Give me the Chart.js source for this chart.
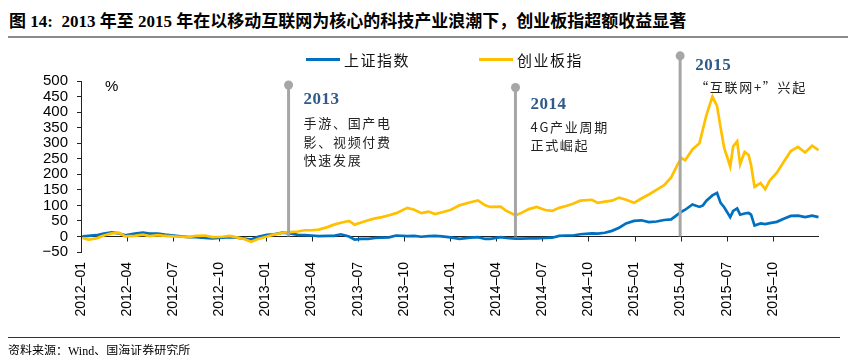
<!DOCTYPE html>
<html><head><meta charset="utf-8">
<script src="https://cdn.jsdelivr.net/npm/chart.js@4.4.0/dist/chart.umd.min.js"></script>
<style>
html,body{margin:0;padding:0;background:#fff;}
#wrap{position:relative;width:856px;height:355px;overflow:hidden;background:#fff;}
#title{position:absolute;left:9px;top:7px;font:bold 17px "Liberation Serif","Noto Sans CJK SC",serif;color:#000;white-space:nowrap;}
#tline{position:absolute;left:8px;top:36px;width:840px;height:2px;background:#8c8c8c;}
#bline{position:absolute;left:8px;top:337px;width:832px;height:1px;background:#333;}
#src{position:absolute;left:8px;top:341px;font:12px "Liberation Serif","Noto Sans CJK SC",serif;color:#000;white-space:nowrap;}
canvas{position:absolute;left:0;top:0;}
</style></head>
<body>
<div id="wrap">
<div id="title">图 14:&nbsp; 2013 年至 2015 年在以移动互联网为核心的科技产业浪潮下，创业板指超额收益显著</div>
<div id="tline"></div>
<canvas id="c" width="856" height="355"></canvas>
<div id="bline"></div>
<div id="src">资料来源：Wind、国海证券研究所</div>
</div>
<script>
// ---- data (cumulative change since start, %) ----
const dates = [
'2012-01-04','2012-01-16','2012-02-01','2012-02-15','2012-03-01','2012-03-15','2012-03-28','2012-04-16','2012-05-02','2012-05-15','2012-06-01','2012-06-15',
'2012-07-02','2012-07-16','2012-08-01','2012-08-15','2012-09-03','2012-09-17','2012-10-08','2012-10-22','2012-11-05','2012-11-19','2012-12-03','2012-12-17',
'2013-01-04','2013-01-18','2013-02-04','2013-02-18','2013-03-04','2013-03-18','2013-04-01','2013-04-15','2013-05-02','2013-05-15','2013-05-29','2013-06-14',
'2013-06-25','2013-07-08','2013-07-22','2013-08-05','2013-08-19','2013-09-02','2013-09-16','2013-10-08','2013-10-22','2013-11-05','2013-11-19','2013-12-02',
'2013-12-16','2014-01-02','2014-01-20','2014-02-10','2014-02-24','2014-03-10','2014-03-20','2014-04-10','2014-04-21','2014-05-09','2014-05-20','2014-06-05',
'2014-06-20','2014-07-07','2014-07-21','2014-08-04','2014-08-18','2014-09-01','2014-09-15','2014-10-08','2014-10-20','2014-11-03','2014-11-17','2014-12-01',
'2014-12-15','2014-12-31','2015-01-15','2015-01-30','2015-02-13','2015-02-27','2015-03-13','2015-03-27','2015-04-03','2015-04-10','2015-04-24','2015-05-08',
'2015-05-15','2015-05-22','2015-06-03','2015-06-12','2015-06-19','2015-06-26','2015-07-08','2015-07-14','2015-07-22','2015-07-28','2015-08-06','2015-08-14',
'2015-08-19','2015-08-26','2015-09-07','2015-09-16','2015-09-25','2015-10-09','2015-10-23','2015-11-06','2015-11-20','2015-12-04','2015-12-18','2015-12-31'
];
const shanghai = [
0,2,4,9,13,10,4,9,12,9,9,6,
3,0,-2,-2,-5,-6,-4,-2,-4,-7,-10,-1,
5,7,12,10,5,4,3,1,2,2,7,0,
-10,-8,-8,-5,-4,-3,3,1,2,-1,1,2,
0,-3,-8,-4,-2,-8,-8,-2,-5,-7,-7,-6,
-6,-5,-4,2,3,3,7,10,9,12,18,28,
42,50,52,46,48,53,55,72,80,86,103,95,
100,115,132,140,108,94,62,82,90,70,74,76,
70,35,42,40,43,47,57,66,67,62,67,62
];
const chinext = [
-5,-10,-6,3,10,12,0,2,6,1,4,2,
0,-1,-2,2,3,-2,-1,2,-3,-8,-17,-8,
0,6,12,14,16,20,20,22,30,38,44,50,
38,45,52,58,62,68,75,92,86,75,80,72,
78,85,100,110,116,100,95,96,82,68,75,88,
95,85,82,92,98,105,115,118,108,112,115,125,
118,108,122,135,150,165,190,235,252,245,280,300,
345,390,450,420,350,285,225,290,306,232,272,262,
230,160,172,152,180,205,240,275,288,270,292,278
];
const seriesNames = ['上证指数','创业板指'];
const tickLabels = ['2012-01','2012-04','2012-07','2012-10','2013-01','2013-04','2013-07','2013-10',
'2014-01','2014-04','2014-07','2014-10','2015-01','2015-04','2015-07','2015-10'];
const yMin = -50, yMax = 500, yStep = 50, xEnd = '2016-01-01';
const eventDates = ['2013-02-15','2014-05-09','2015-03-31'];
const eventTops = [487, 479, 581];
const eventTitles = ['2013','2014','2015'];
const eventTexts = [['手游、国产电','影、视频付费','快速发展'],['4G产业周期','正式崛起'],['“互联网+”兴起']];

// ---- helpers ----
function toMonth(s){
  const p = s.split('-').map(Number);
  const dim = new Date(p[0], p[1], 0).getDate();
  return (p[0]-2012)*12 + (p[1]-1) + ((p[2]||1)-1)/dim;
}
const tickMonths = tickLabels.map(l => toMonth(l+'-01'));
const BLUE = '#0070c0', YELLOW = '#ffc000', GREY = '#a6a6a6';

const decor = {
  id: 'decor',
  beforeDatasetsDraw(chart){
    const ctx = chart.ctx, xs = chart.scales.x, ys = chart.scales.y;
    const y0 = Math.round(ys.getPixelForValue(0)) + 0.5;
    ctx.save();
    ctx.strokeStyle = '#222'; ctx.lineWidth = 1;
    ctx.beginPath(); ctx.moveTo(xs.left, y0); ctx.lineTo(xs.right, y0);
    tickMonths.forEach((m,i) => { if(i===0) return; const x = Math.round(xs.getPixelForValue(m))+0.5; ctx.moveTo(x,y0); ctx.lineTo(x,y0+5); });
    ctx.stroke();
    ctx.restore();
  },
  afterDatasetsDraw(chart){
    const ctx = chart.ctx, xs = chart.scales.x, ys = chart.scales.y;
    ctx.save();
    eventDates.forEach((d,i) => {
      const x = xs.getPixelForValue(toMonth(d));
      const yt = ys.getPixelForValue(eventTops[i]);
      const yb = ys.getPixelForValue(0);
      ctx.strokeStyle = GREY; ctx.lineWidth = 3;
      ctx.beginPath(); ctx.moveTo(x, yt); ctx.lineTo(x, yb); ctx.stroke();
      ctx.fillStyle = GREY; ctx.beginPath(); ctx.arc(x, yt, 4.5, 0, Math.PI*2); ctx.fill();
    });
    ctx.restore();
  },
  afterDraw(chart){
    const ctx = chart.ctx, xs = chart.scales.x, ys = chart.scales.y;
    ctx.save();
    // legend
    const legend = [[seriesNames[0], BLUE, 306], [seriesNames[1], YELLOW, 479]];
    ctx.textBaseline = 'middle'; ctx.textAlign = 'left';
    ctx.font = '15px "Noto Sans CJK SC"';
    legend.forEach(([name,col,x]) => {
      ctx.strokeStyle = col; ctx.lineWidth = 3;
      ctx.beginPath(); ctx.moveTo(x, 59.5); ctx.lineTo(x+34, 59.5); ctx.stroke();
      ctx.fillStyle = '#111';
      ctx.letterSpacing = '1.5px';
      ctx.fillText(name, x+38, 60);
    });
    ctx.letterSpacing = '0px';
    // unit
    ctx.font = '15px "Liberation Sans"'; ctx.fillStyle = '#000';
    ctx.fillText('%', 105, 87);
    // event labels
    const offs = [[14.5,[38,57,75]],[17,[40,58]],[10,[31]]];
    eventDates.forEach((d,i) => {
      const x = xs.getPixelForValue(toMonth(d)) + 15;
      const yt = ys.getPixelForValue(eventTops[i]);
      ctx.font = 'bold 17px "Liberation Serif"'; ctx.fillStyle = '#2f5a8a';
      ctx.letterSpacing = '0.5px';
      ctx.fillText(eventTitles[i], x, yt + offs[i][0]);
      ctx.font = '13px "Noto Sans CJK SC"'; ctx.fillStyle = '#222';
      ctx.letterSpacing = '1.7px';
      eventTexts[i].forEach((t,j) => ctx.fillText(t, x, yt + offs[i][1][j]));
    });
    ctx.restore();
  }
};

const toPts = arr => dates.map((d,i) => ({x: toMonth(d), y: arr[i]}));

new Chart(document.getElementById('c'), {
  type: 'line',
  data: { datasets: [
    { label: seriesNames[0], data: toPts(shanghai), borderColor: BLUE, borderWidth: 2.7, pointRadius: 0, tension: 0, order: 2 },
    { label: seriesNames[1], data: toPts(chinext), borderColor: YELLOW, borderWidth: 2.7, pointRadius: 0, tension: 0, order: 1 }
  ]},
  options: {
    responsive: false, animation: false,
    layout: { padding: { top: 81, right: 37, left: 0, bottom: 0 } },
    plugins: { legend: { display: false }, tooltip: { enabled: false }, title: { display: false } },
    scales: {
      x: {
        type: 'linear', min: 0, max: toMonth(xEnd),
        afterBuildTicks: s => { s.ticks = tickMonths.map(v => ({value: v})); },
        afterFit: s => { s.height = 103; },
        border: { display: false },
        grid: { display: false, drawTicks: false },
        ticks: { autoSkip: false, minRotation: 90, maxRotation: 90, padding: 10,
          font: { family: 'Liberation Sans', size: 14 }, color: '#000',
          callback: (v, i) => tickLabels[i].replace('-', '–') }
      },
      y: {
        min: yMin, max: yMax,
        afterFit: s => { s.width = 81; },
        border: { display: true, color: '#222', width: 1 },
        grid: { drawOnChartArea: false, drawTicks: true, tickLength: 4, color: '#222' },
        ticks: { stepSize: yStep, autoSkip: false, padding: 9, font: { family: 'Liberation Sans', size: 15 }, color: '#000',
          callback: v => (v < 0 ? '−' + Math.abs(v) : String(v)) }
      }
    }
  },
  plugins: [decor]
});
</script>
</body></html>
